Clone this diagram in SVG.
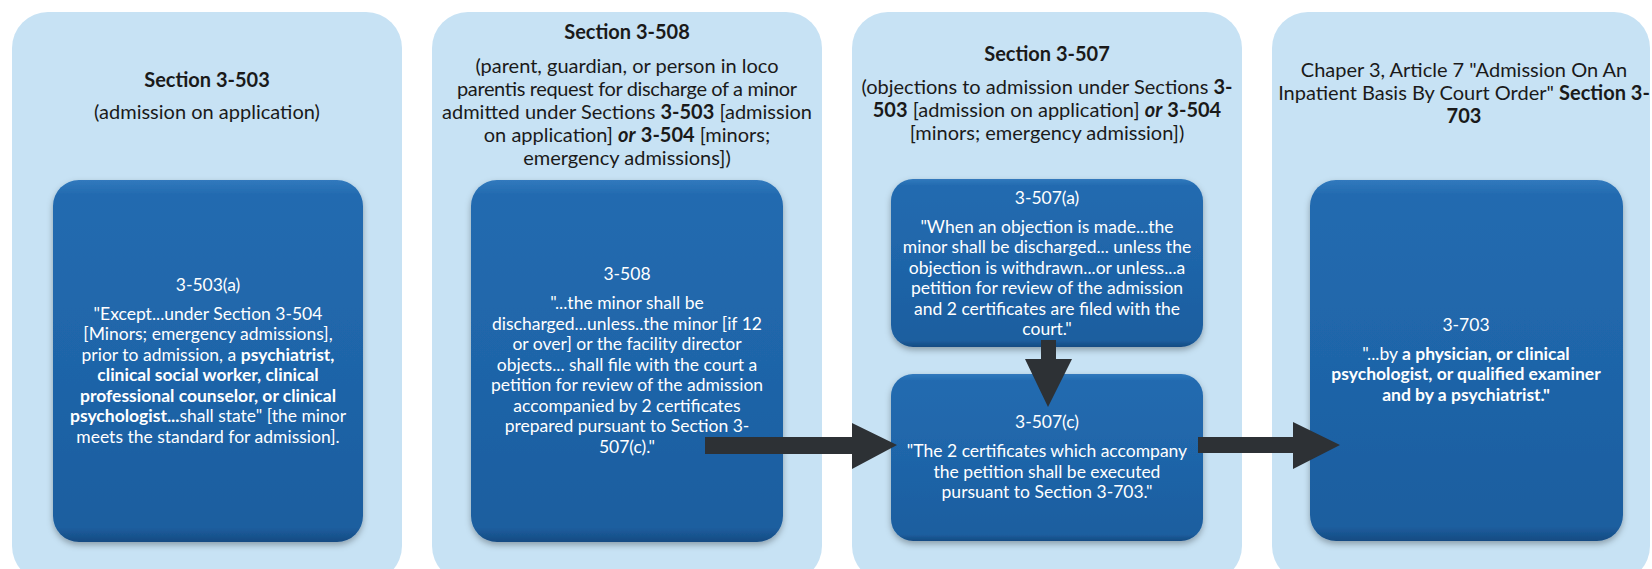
<svg xmlns="http://www.w3.org/2000/svg" width="1652" height="569" viewBox="0 0 1652 569">
<defs>
<linearGradient id="boxg" x1="0" y1="0" x2="0" y2="1">
<stop offset="0" stop-color="#3179bd"/>
<stop offset="0.04" stop-color="#236bb0"/>
<stop offset="0.5" stop-color="#1f65a9"/>
<stop offset="0.96" stop-color="#1c5e9f"/>
<stop offset="1" stop-color="#164b82"/>
</linearGradient>
<filter id="sh" x="-10%" y="-10%" width="120%" height="125%">
<feDropShadow dx="0" dy="3" stdDeviation="3" flood-color="#000" flood-opacity="0.3"/>
</filter>
</defs>
<style>
.panel{fill:#c7e2f4}
.box{fill:url(#boxg);filter:url(#sh)}
.t{font-family:Lato,"Liberation Sans",Arial,sans-serif;font-size:20px;fill:#1a1a1a;text-anchor:middle}
.w{font-family:Lato,"Liberation Sans",Arial,sans-serif;font-size:17.5px;fill:#ffffff;text-anchor:middle}
.b{font-weight:bold}
.bi{font-weight:bold;font-style:italic}
.arrow{fill:#2d3135}
</style>
<rect width="1652" height="569" fill="#ffffff"/>

<g id="panel-3-503">
<rect class="panel" x="12" y="12" width="390" height="570" rx="36"/>
<text class="t b" x="207" y="86.5">Section 3-503</text>
<text class="t" x="207" y="118.5">(admission on application)</text>
</g>
<g id="node-3-503a">
<rect class="box" x="53" y="180" width="310" height="362" rx="26"/>
<text class="w" x="208" y="291">3-503(a)</text>
<text class="w" x="208" y="319.5">"Except...under Section 3-504</text>
<text class="w" x="208" y="340">[Minors; emergency admissions],</text>
<text class="w" x="208" y="360.5">prior to admission, a <tspan class="b">psychiatrist,</tspan></text>
<text class="w b" x="208" y="381">clinical social worker, clinical</text>
<text class="w b" x="208" y="401.5">professional counselor, or clinical</text>
<text class="w" x="208" y="422"><tspan class="b">psychologist...</tspan>shall state" [the minor</text>
<text class="w" x="208" y="442.5">meets the standard for admission].</text>
</g>

<g id="panel-3-508">
<rect class="panel" x="432" y="12" width="390" height="570" rx="36"/>
<text class="t b" x="627" y="39">Section 3-508</text>
<text class="t" x="627" y="73">(parent, guardian, or person in loco</text>
<text class="t" x="627" y="96" textLength="340" lengthAdjust="spacing">parentis request for discharge of a minor</text>
<text class="t" x="627" y="119">admitted under Sections <tspan class="b">3-503</tspan> [admission</text>
<text class="t" x="627" y="142">on application] <tspan class="bi">or</tspan> <tspan class="b">3-504</tspan> [minors;</text>
<text class="t" x="627" y="165">emergency admissions])</text>
</g>
<g id="node-3-508">
<rect class="box" x="471" y="180" width="312" height="362" rx="26"/>
<text class="w" x="627" y="280">3-508</text>
<text class="w" x="627" y="309">"...the minor shall be</text>
<text class="w" x="627" y="329.5">discharged...unless..the minor [if 12</text>
<text class="w" x="627" y="350">or over] or the facility director</text>
<text class="w" x="627" y="370.5">objects... shall file with the court a</text>
<text class="w" x="627" y="391">petition for review of the admission</text>
<text class="w" x="627" y="411.5">accompanied by 2 certificates</text>
<text class="w" x="627" y="432">prepared pursuant to Section 3-</text>
<text class="w" x="627" y="452.5">507(c)."</text>
</g>

<g id="panel-3-507">
<rect class="panel" x="852" y="12" width="390" height="570" rx="36"/>
<text class="t b" x="1047" y="61">Section 3-507</text>
<text class="t" x="1047" y="94">(objections to admission under Sections <tspan class="b">3-</tspan></text>
<text class="t" x="1047" y="117"><tspan class="b">503</tspan> [admission on application] <tspan class="bi">or</tspan> <tspan class="b">3-504</tspan></text>
<text class="t" x="1047" y="140">[minors; emergency admission])</text>
</g>
<g id="node-3-507a">
<rect class="box" x="891" y="179" width="312" height="168" rx="22"/>
<text class="w" x="1047" y="204">3-507(a)</text>
<text class="w" x="1047" y="232.5">"When an objection is made...the</text>
<text class="w" x="1047" y="253">minor shall be discharged... unless the</text>
<text class="w" x="1047" y="273.5">objection is withdrawn...or unless...a</text>
<text class="w" x="1047" y="294">petition for review of the admission</text>
<text class="w" x="1047" y="314.5">and 2 certificates are filed with the</text>
<text class="w" x="1047" y="335">court."</text>
</g>
<g id="node-3-507c">
<rect class="box" x="891" y="374" width="312" height="167" rx="22"/>
<text class="w" x="1047" y="428">3-507(c)</text>
<text class="w" x="1047" y="457">"The 2 certificates which accompany</text>
<text class="w" x="1047" y="477.5">the petition shall be executed</text>
<text class="w" x="1047" y="498">pursuant to Section 3-703."</text>
</g>

<g id="panel-3-703">
<rect class="panel" x="1272" y="12" width="378" height="570" rx="36"/>
<text class="t" x="1464" y="77">Chaper 3, Article 7 "Admission On An</text>
<text class="t" x="1464" y="100">Inpatient Basis By Court Order" <tspan class="b">Section 3-</tspan></text>
<text class="t b" x="1464" y="123">703</text>
</g>
<g id="node-3-703">
<rect class="box" x="1310" y="180" width="313" height="361" rx="26"/>
<text class="w" x="1466" y="331">3-703</text>
<text class="w" x="1466" y="359.5">"...by <tspan class="b">a physician, or clinical</tspan></text>
<text class="w b" x="1466" y="380">psychologist, or qualified examiner</text>
<text class="w b" x="1466" y="400.5">and by a psychiatrist."</text>
</g>

<g id="connectors">
<polygon class="arrow" points="705,437 852,437 852,423 897,445 852,469 852,454 705,454"/>
<polygon class="arrow" points="1041,340 1056,340 1056,359 1072,359 1048,407 1025,359 1041,359"/>
<polygon class="arrow" points="1198,437 1293,437 1293,422 1340,445 1293,469 1293,453 1198,453"/>
</g>
</svg>
